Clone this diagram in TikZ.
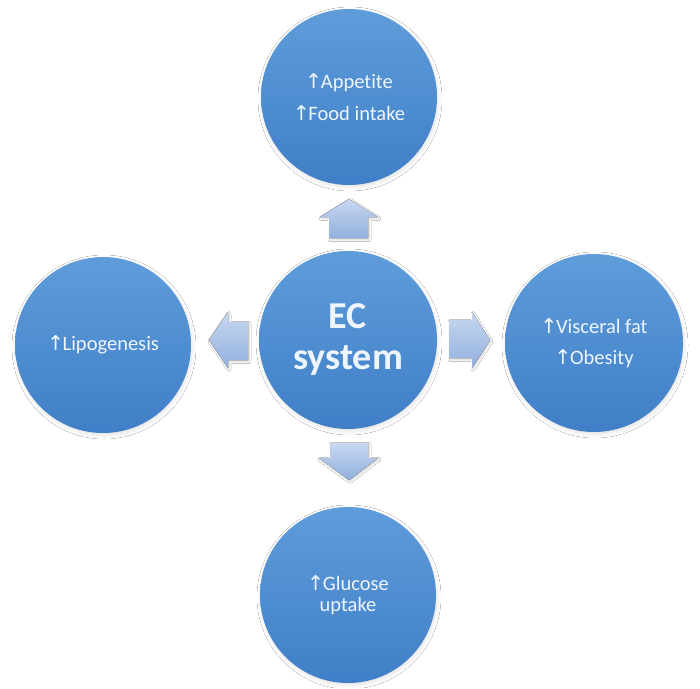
\documentclass[tikz,border=0pt]{standalone}
\usepackage{fontspec}
\setmainfont{Carlito}[Ligatures=NoCommon]
\newfontfamily\arrowfont{DejaVu Sans}
\usetikzlibrary{shadows.blur}
\definecolor{ctop}{RGB}{94,156,218}
\definecolor{cbot}{RGB}{64,127,199}
\definecolor{txt}{RGB}{238,245,252}
\definecolor{atop}{RGB}{200,216,240}
\definecolor{abot}{RGB}{145,175,222}
\newcommand{\upar}{{\arrowfont ↑}\kern-1.5pt}
\begin{document}
\begin{tikzpicture}[x=1pt,y=-1pt,
  bubble/.style={circle, minimum size=176pt, inner sep=0pt, top color=ctop, bottom color=cbot,
    draw=none, text=txt, align=center, font=\fontsize{20.5}{21}\selectfont,
    blur shadow={shadow xshift=1pt, shadow yshift=-2pt, shadow blur radius=4pt, shadow opacity=12}},
  blockarrow/.style={top color=atop, bottom color=abot,
    blur shadow={shadow xshift=1pt, shadow yshift=-1.5pt, shadow blur radius=2pt, shadow opacity=20}}]
\useasboundingbox (0,0) rectangle (700,688);
\fill[white] (0,0) rectangle (700,688);

\node[bubble] (top) at (349,97) {\upar Appetite\\[11pt]\upar Food intake};
\node[bubble] (left) at (103,345) {\upar Lipogenesis};
\node[bubble, minimum size=178pt, font=\fontsize{38}{41}\selectfont\bfseries] (ec) at (348,340) {EC\\system};
\node[bubble, minimum size=178pt] (right) at (594,343) {\upar Visceral fat\\[10pt]\upar Obesity};
\node[bubble] (bot) at (348,595) {\upar Glucose\\uptake};

% block arrows
\fill[blockarrow] (320,217) -- (349,199) -- (378,217) -- (368,217) -- (368,238) -- (329,238) -- (329,217) -- cycle;
\fill[blockarrow] (330,443) -- (368,443) -- (368,458) -- (378,458) -- (349,480) -- (319,458) -- (330,458) -- cycle;
\fill[blockarrow] (209,340) -- (228,312) -- (228,322) -- (248,322) -- (248,360) -- (228,360) -- (228,368) -- cycle;
\fill[blockarrow] (449,320) -- (472,320) -- (472,312) -- (490,340) -- (472,368) -- (472,358) -- (449,358) -- cycle;
\end{tikzpicture}
\end{document}
